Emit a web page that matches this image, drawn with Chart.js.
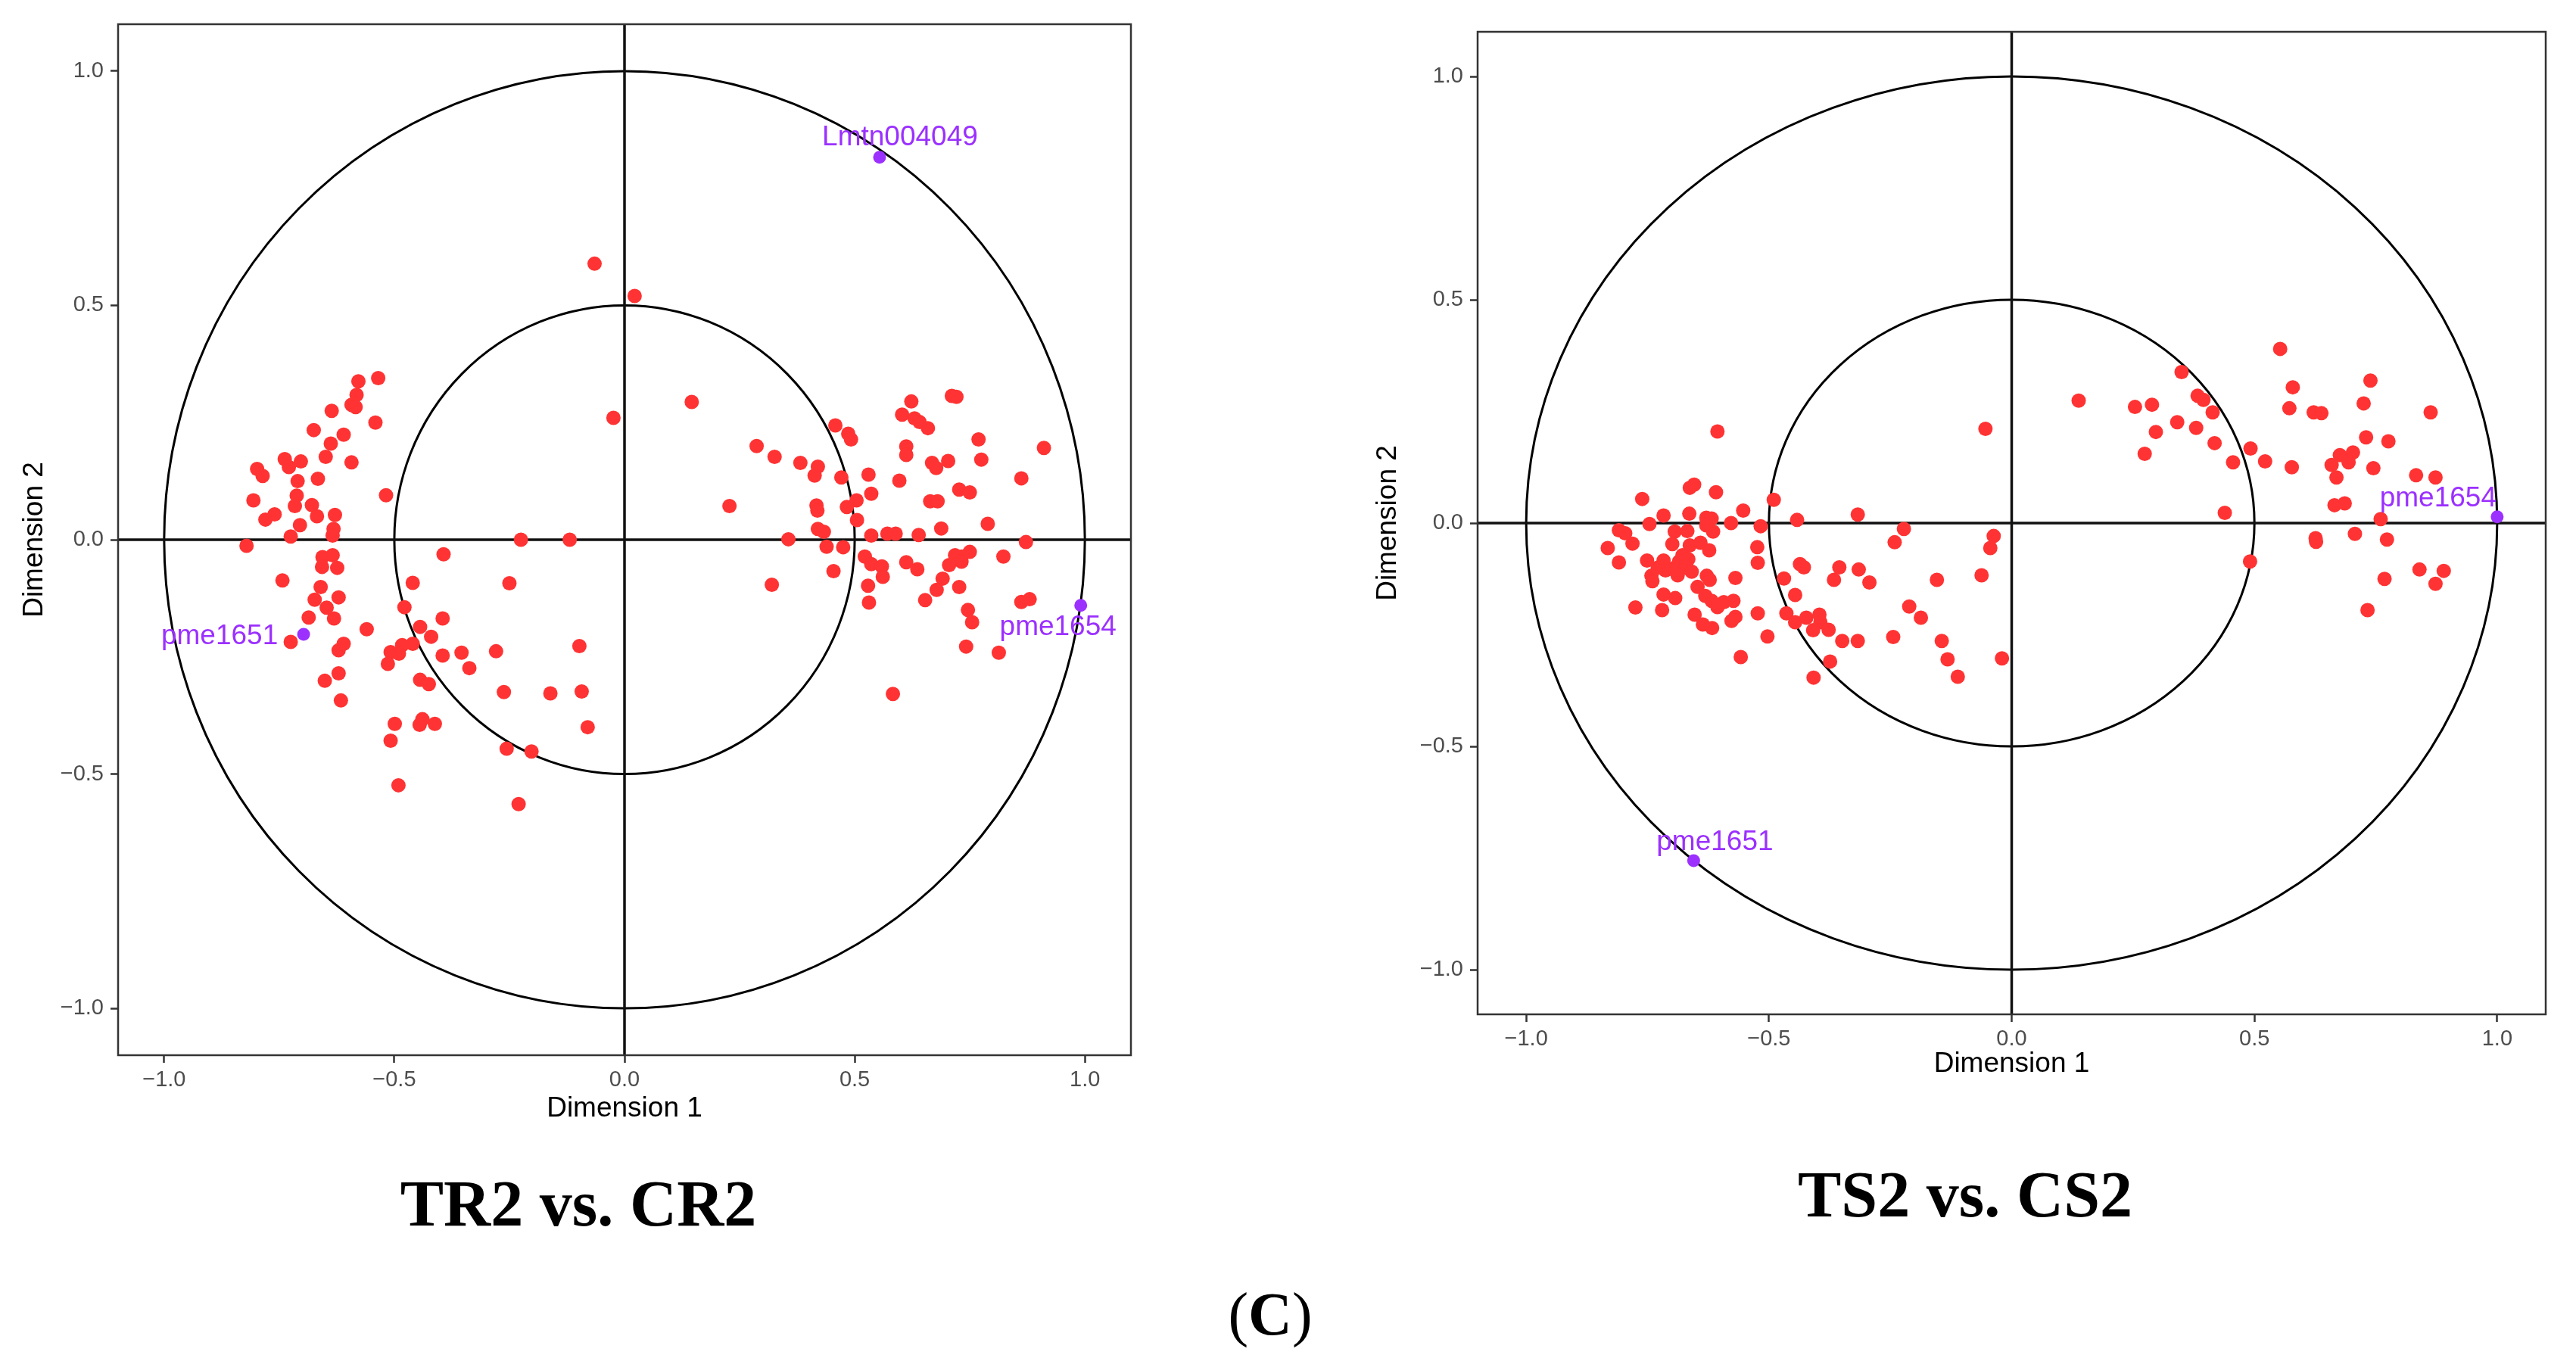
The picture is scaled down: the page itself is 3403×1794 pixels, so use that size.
<!DOCTYPE html>
<html>
<head>
<meta charset="utf-8">
<script src="https://cdn.jsdelivr.net/npm/chart.js@4.4.1/dist/chart.umd.min.js"></script>
<style>
  html, body { margin: 0; padding: 0; background: #fff; }
  body { width: 3403px; height: 1794px; position: relative; overflow: hidden; }
  canvas { position: absolute; top: 0; }
  #chartTR { left: 0; }
  #chartTS { left: 1780px; }
  .cap {
    position: absolute; transform: translate(-50%, -50%); white-space: nowrap;
    font-family: "Liberation Serif", "Times New Roman", serif; line-height: 1; color: #000;
  }
</style>
</head>
<body>
<canvas id="chartTR" width="1540" height="1500"></canvas>
<canvas id="chartTS" width="1623" height="1440"></canvas>
<div class="cap" style="left:764px;top:1590px;font-size:86px;font-weight:bold">TR2 vs. CR2</div>
<div class="cap" style="left:2596px;top:1578px;font-size:86px;font-weight:bold">TS2 vs. CS2</div>
<div class="cap" style="left:1678px;top:1736px;font-size:80px">(<b>C</b>)</div>
<script>
// axis ticks and reference circles (correlation circle radii)
const tickValues = [-1.0, -0.5, 0.0, 0.5, 1.0];
const circleRadii = [0.5, 1.0];

// TR2 vs. CR2 variables
const tr2X = [
  -0.535, -0.578, -0.582, -0.593, -0.584, -0.636, -0.541, -0.675, -0.610, -0.638,
  -0.649, -0.593, -0.738, -0.729, -0.703, -0.798, -0.786, -0.710, -0.666, -0.518,
  -0.806, -0.712, -0.716, -0.679, -0.760, -0.780, -0.668, -0.629, -0.705, -0.632,
  -0.634, -0.725, -0.821, -0.656, -0.634, -0.657, -0.624, -0.743, -0.660, -0.621,
  -0.673, -0.647, -0.631, -0.686, -0.725, -0.610, -0.621, -0.560, -0.621, -0.651,
  -0.616, -0.393, -0.225, -0.119, -0.460, -0.250, -0.478, -0.395, -0.444, -0.420,
  -0.460, -0.483, -0.508, -0.490, -0.514, -0.395, -0.354, -0.337, -0.279, -0.098,
  -0.444, -0.425, -0.262, -0.161, -0.093, -0.080, -0.499, -0.508, -0.445, -0.439,
  -0.412, -0.256, -0.202, -0.491, -0.230, -0.024, -0.065, 0.022, 0.146,
  0.287, 0.326, 0.382, 0.420, 0.413, 0.228, 0.458, 0.486, 0.492, 0.471,
  0.530, 0.536, 0.504, 0.483, 0.417, 0.419, 0.505, 0.420, 0.433, 0.356,
  0.439, 0.475, 0.536, 0.571, 0.589, 0.639, 0.688, 0.454, 0.320, 0.522,
  0.536, 0.559, 0.561, 0.529, 0.531, 0.612, 0.636, 0.623, 0.603, 0.630,
  0.641, 0.659, 0.711, 0.721, 0.612, 0.612, 0.597, 0.668, 0.677, 0.703,
  0.664, 0.680, 0.727, 0.750, 0.769, 0.775, 0.911, 0.862, 0.789, 0.872,
  0.823, 0.750, 0.732, 0.718, 0.732, 0.705, 0.691, 0.678, 0.727, 0.653,
  0.746, 0.755, 0.862, 0.880, 0.742, 0.813, 0.583
];
const tr2Y = [
  0.345, 0.338, 0.309, 0.288, 0.283, 0.275, 0.250, 0.234, 0.224, 0.205,
  0.177, 0.165, 0.172, 0.155, 0.167, 0.151, 0.136, 0.125, 0.130, 0.095,
  0.084, 0.094, 0.072, 0.074, 0.054, 0.043, 0.050, 0.053, 0.031, 0.023,
  0.009, 0.007, -0.013, -0.037, -0.033, -0.058, -0.060, -0.087, -0.101, -0.123,
  -0.128, -0.145, -0.168, -0.166, -0.218, -0.222, -0.236, -0.191, -0.285, -0.301,
  -0.343, -0.031, 0.000, 0.000, -0.092, -0.093, -0.144, -0.168, -0.186, -0.207,
  -0.222, -0.225, -0.240, -0.243, -0.265, -0.247, -0.241, -0.274, -0.238, -0.227,
  -0.299, -0.308, -0.325, -0.328, -0.324, -0.400, -0.393, -0.429, -0.395, -0.383,
  -0.393, -0.446, -0.452, -0.524, -0.564, 0.260, 0.589, 0.520, 0.294,
  0.200, 0.177, 0.164, 0.156, 0.137, 0.072, 0.244, 0.226, 0.214, 0.133,
  0.139, 0.098, 0.084, 0.070, 0.073, 0.062, 0.042, 0.023, 0.017, 0.001,
  -0.015, -0.016, 0.009, 0.013, 0.013, 0.010, 0.024, -0.067, -0.096, -0.036,
  -0.052, -0.057, -0.079, -0.098, -0.134, -0.048, -0.063, 0.295, 0.267, 0.259,
  0.251, 0.238, 0.307, 0.305, 0.199, 0.181, 0.126, 0.164, 0.153, 0.168,
  0.082, 0.082, 0.107, 0.101, 0.214, 0.171, 0.196, 0.131, 0.034, -0.005,
  -0.036, -0.026, -0.036, -0.033, -0.047, -0.054, -0.083, -0.107, -0.101, -0.129,
  -0.150, -0.176, -0.133, -0.127, -0.228, -0.241, -0.329
];
const tr2Names = ["Lmtn004049", "pme1651", "pme1654"];
const tr2NameX = [0.554, -0.697, 0.991];
const tr2NameY = [0.816, -0.202, -0.140];

// TS2 vs. CS2 variables
const ts2X = [
  -0.606, -0.054, -0.663, -0.654, -0.609, -0.761, -0.490, -0.553, -0.664, -0.717,
  -0.629, -0.618, -0.317, -0.746, -0.578, -0.517, -0.442, -0.629, -0.615, -0.809,
  -0.796, -0.694, -0.668, -0.781, -0.832, -0.699, -0.663, -0.641, -0.623, -0.524,
  -0.222, -0.241, -0.037, -0.044, -0.809, -0.751, -0.717, -0.685, -0.666, -0.713,
  -0.694, -0.672, -0.523, -0.436, -0.428, -0.355, -0.315, -0.742, -0.740, -0.628,
  -0.622, -0.569, -0.469, -0.366, -0.293, -0.154, -0.062, -0.647, -0.717, -0.693,
  -0.631, -0.618, -0.593, -0.573, -0.606, -0.446, -0.775, -0.720, -0.653, -0.636,
  -0.617, -0.577, -0.569, -0.523, -0.464, -0.446, -0.423, -0.396, -0.394, -0.409,
  -0.377, -0.503, -0.349, -0.317, -0.244, -0.211, -0.187, -0.144, -0.132, -0.111,
  -0.020, -0.558, -0.374, -0.408, -0.729, -0.678, -0.659, -0.688,
  0.138, 0.553, 0.350, 0.254, 0.289, 0.383, 0.395, 0.414, 0.341, 0.380,
  0.297, 0.418, 0.274, 0.492, 0.456, 0.522, 0.579, 0.572, 0.622, 0.638,
  0.577, 0.739, 0.725, 0.863, 0.730, 0.776, 0.676, 0.703, 0.694, 0.659,
  0.669, 0.745, 0.833, 0.873, 0.665, 0.686, 0.439, 0.760, 0.626, 0.627,
  0.707, 0.773, 0.491, 0.840, 0.890, 0.873, 0.768, 0.733
];
const ts2Y = [
  0.205, 0.211, 0.079, 0.086, 0.069, 0.054, 0.052, 0.028, 0.021, 0.017,
  0.012, 0.010, 0.019, -0.002, 0.000, -0.007, 0.007, -0.005, -0.019, -0.016,
  -0.023, -0.019, -0.018, -0.046, -0.056, -0.047, -0.050, -0.044, -0.061, -0.054,
  -0.013, -0.043, -0.029, -0.056, -0.088, -0.084, -0.084, -0.086, -0.081, -0.106,
  -0.100, -0.100, -0.089, -0.092, -0.099, -0.099, -0.104, -0.118, -0.130, -0.118,
  -0.127, -0.123, -0.124, -0.127, -0.133, -0.127, -0.117, -0.143, -0.160, -0.168,
  -0.163, -0.174, -0.177, -0.174, -0.188, -0.161, -0.189, -0.195, -0.205, -0.227,
  -0.235, -0.219, -0.210, -0.202, -0.202, -0.222, -0.212, -0.205, -0.222, -0.240,
  -0.239, -0.254, -0.264, -0.264, -0.255, -0.187, -0.212, -0.264, -0.305, -0.344,
  -0.303, -0.300, -0.310, -0.346, -0.100, -0.072, -0.109, -0.117,
  0.274, 0.390, 0.338, 0.260, 0.265, 0.285, 0.276, 0.248, 0.226, 0.213,
  0.204, 0.179, 0.155, 0.167, 0.136, 0.138, 0.304, 0.257, 0.248, 0.246,
  0.125, 0.319, 0.268, 0.248, 0.192, 0.183, 0.152, 0.158, 0.136, 0.130,
  0.102, 0.123, 0.107, 0.102, 0.040, 0.044, 0.023, 0.009, -0.034, -0.042,
  -0.024, -0.037, -0.086, -0.104, -0.107, -0.136, -0.125, -0.195
];
const ts2Names = ["pme1651", "pme1654"];
const ts2NameX = [-0.655, 1.000];
const ts2NameY = [-0.756, 0.014];

const SANS = '"Liberation Sans", Arial, Helvetica, sans-serif';
const RED = "#FF3333";
const PURPLE = "#9B30FF";

function fmtTick(v) {
  const s = Math.abs(v).toFixed(1);
  return v < 0 ? "\u2212" + s : s;
}

// circles, zero lines, frame and repelled labels
const decorPlugin = {
  id: "decor",
  beforeDatasetsDraw(chart) {
    const { ctx, chartArea: a, scales: { x, y } } = chart;
    const cx = x.getPixelForValue(0);
    const cy = y.getPixelForValue(0);
    ctx.save();
    ctx.beginPath();
    ctx.rect(a.left, a.top, a.right - a.left, a.bottom - a.top);
    ctx.clip();
    ctx.strokeStyle = "#000";
    ctx.lineWidth = 3;
    circleRadii.forEach(function (r) {
      const rx = x.getPixelForValue(r) - cx;
      const ry = cy - y.getPixelForValue(r);
      ctx.beginPath();
      ctx.ellipse(cx, cy, rx, ry, 0, 0, Math.PI * 2);
      ctx.stroke();
    });
    ctx.lineWidth = 3.5;
    ctx.strokeStyle = "#111";
    ctx.beginPath();
    ctx.moveTo(a.left, cy);
    ctx.lineTo(a.right, cy);
    ctx.moveTo(cx, a.top);
    ctx.lineTo(cx, a.bottom);
    ctx.stroke();
    ctx.restore();
  },
  afterDatasetsDraw(chart, args, opts) {
    const { ctx } = chart;
    const meta = chart.getDatasetMeta(0);
    ctx.save();
    ctx.font = "37px " + SANS;
    ctx.fillStyle = PURPLE;
    ctx.textAlign = "center";
    ctx.textBaseline = "middle";
    (opts.names || []).forEach(function (name, i) {
      const pt = meta.data[i];
      ctx.fillText(name, pt.x + opts.dx[i], pt.y + opts.dy[i]);
    });
    ctx.restore();
  },
  afterDraw(chart) {
    const { ctx, chartArea: a } = chart;
    ctx.save();
    ctx.strokeStyle = "#333";
    ctx.lineWidth = 2.5;
    ctx.strokeRect(a.left, a.top, a.right - a.left, a.bottom - a.top);
    ctx.restore();
  },
};

function axisCommon() {
  return {
    type: "linear",
    min: -1.1,
    max: 1.1,
    afterBuildTicks: function (scale) {
      scale.ticks = tickValues.map(function (v) { return { value: v }; });
    },
    ticks: {
      color: "#4D4D4D",
      font: { family: SANS, size: 29 },
      padding: 6,
      autoSkip: false,
      maxRotation: 0,
      callback: fmtTick,
    },
    grid: {
      drawOnChartArea: false,
      drawTicks: true,
      tickLength: 10,
      tickColor: "#333",
      tickWidth: 2.5,
    },
    border: { display: false },
  };
}

function makeChart(id, xs, ys, names, nx, ny, cfg) {
  const xAxis = axisCommon();
  xAxis.position = "bottom";
  xAxis.title = {
    display: true, text: "Dimension 1", color: "#000",
    font: { family: SANS, size: 37 }, padding: { top: cfg.xTitlePad, bottom: cfg.xTitlePad },
  };
  xAxis.afterFit = function (scale) { scale.height = cfg.xh; };

  const yAxis = axisCommon();
  yAxis.position = "left";
  yAxis.ticks.padding = 9;
  yAxis.title = {
    display: true, text: "Dimension 2", color: "#000",
    font: { family: SANS, size: 37 }, padding: { top: cfg.yTitlePad, bottom: cfg.yTitlePad },
  };
  yAxis.afterFit = function (scale) { scale.width = cfg.yw; };

  return new Chart(document.getElementById(id), {
    type: "scatter",
    data: {
      datasets: [
        {
          label: "labelled",
          data: nx.map(function (v, i) { return { x: v, y: ny[i] }; }),
          backgroundColor: PURPLE,
          pointRadius: 8.5,
          pointHoverRadius: 8.5,
          borderWidth: 0,
        },
        {
          label: "variables",
          data: xs.map(function (v, i) { return { x: v, y: ys[i] }; }),
          backgroundColor: RED,
          pointRadius: 9.5,
          pointHoverRadius: 9.5,
          borderWidth: 0,
        },
      ],
    },
    options: {
      responsive: false,
      animation: false,
      devicePixelRatio: 1,
      events: [],
      layout: { padding: { top: cfg.top, right: cfg.right, left: 0, bottom: 0 } },
      plugins: {
        legend: { display: false },
        tooltip: { enabled: false },
        decor: { names: names, dx: cfg.dx, dy: cfg.dy },
      },
      scales: { x: xAxis, y: yAxis },
    },
    plugins: [decorPlugin],
  });
}

makeChart("chartTR", tr2X, tr2Y, tr2Names, tr2NameX, tr2NameY, {
  top: 32, right: 46, yw: 156, xh: 106, xTitlePad: 13, yTitlePad: 24,
  dx: [27, -111, -30], dy: [-26, 3, 29],
});

makeChart("chartTS", ts2X, ts2Y, ts2Names, ts2NameX, ts2NameY, {
  top: 42, right: 40, yw: 172, xh: 100, xTitlePad: 12, yTitlePad: 32,
  dx: [28, -78], dy: [-24, -24],
});
</script>
</body>
</html>
